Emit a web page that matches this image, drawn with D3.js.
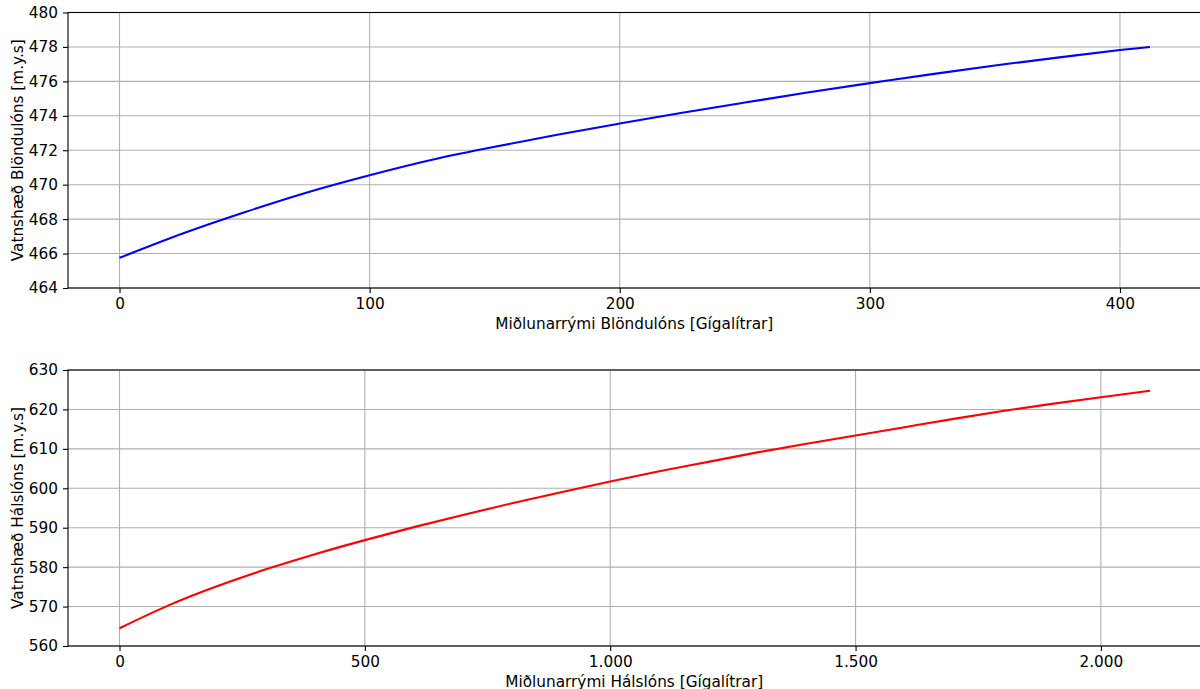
<!DOCTYPE html>
<html>
<head>
<meta charset="utf-8">
<script src="https://cdn.jsdelivr.net/npm/d3@7"></script>
<style>
    body { margin: 0; background: #fff; }
    svg { display: block; font-family: "DejaVu Sans", sans-serif; }
</style>
</head>
<body>
<div id="chart"></div>
<script>
// Blöndulón: storage (GL) vs water level (m.y.s)
const blondaVolume = [0, 25, 50, 75, 100, 125, 150, 175, 200, 225, 250, 275, 300, 325, 350, 375, 400, 412];
const blondaLevel = [465.75, 467.15, 468.4, 469.55, 470.55, 471.45, 472.2, 472.9, 473.55, 474.18, 474.77, 475.35, 475.9, 476.42, 476.92, 477.38, 477.82, 478.0];

// Hálslón: storage (GL) vs water level (m.y.s)
const halsVolume = [0, 100, 200, 300, 400, 500, 600, 700, 800, 900, 1000, 1100, 1200, 1300, 1400, 1500, 1600, 1700, 1800, 1900, 2000, 2100];
const halsLevel = [564.5, 570.3, 575.2, 579.5, 583.35, 586.85, 590.15, 593.25, 596.2, 599.0, 601.7, 604.3, 606.7, 609.1, 611.3, 613.4, 615.5, 617.6, 619.6, 621.4, 623.1, 624.75];

// Axis settings
const blondaYTicks = [464, 466, 468, 470, 472, 474, 476, 478, 480];
const blondaXTicks = [0, 100, 200, 300, 400];
const halsYTicks = [560, 570, 580, 590, 600, 610, 620, 630];
const halsXTicks = [0, 500, 1000, 1500, 2000];

const isLocale = d3.formatLocale({decimal: ",", thousands: ".", grouping: [3], currency: ["", ""]});

const W = 1200, H = 689;
const svg = d3.select("#chart").append("svg")
    .attr("width", W)
    .attr("height", H);

function drawPanel(opts) {
    let left = 68, right = 1201.5;
    let top = opts.top, bottom = opts.bottom;

    // matplotlib style 5% margin on x
    let ext = d3.extent(opts.xs);
    let pad = (ext[1] - ext[0]) * 0.05;
    let x = d3.scaleLinear().domain([ext[0] - pad, ext[1] + pad]).range([left, right]);
    let y = d3.scaleLinear().domain(opts.yDomain).range([bottom, top]);

    let g = svg.append("g");

    // grid
    g.append("g").selectAll("line.gx")
        .data(opts.xTicks).enter().append("line")
        .attr("x1", d => x(d)).attr("x2", d => x(d))
        .attr("y1", top).attr("y2", bottom)
        .attr("stroke", "#b0b0b0").attr("stroke-width", 1.1);
    g.append("g").selectAll("line.gy")
        .data(opts.yTicks).enter().append("line")
        .attr("x1", left).attr("x2", right)
        .attr("y1", d => y(d)).attr("y2", d => y(d))
        .attr("stroke", "#b0b0b0").attr("stroke-width", 1.1);

    // data line
    let line = d3.line()
        .x((d, i) => x(opts.xs[i]))
        .y(d => y(d))
        .curve(d3.curveNatural);
    g.append("path")
        .datum(opts.ys)
        .attr("fill", "none")
        .attr("stroke", opts.color)
        .attr("stroke-width", 2.1)
        .attr("d", line);

    // axes
    let xAxis = g.append("g")
        .attr("transform", "translate(0," + bottom + ")")
        .call(d3.axisBottom(x).tickValues(opts.xTicks).tickFormat(opts.xFormat).tickSize(5).tickPadding(5));
    let yAxis = g.append("g")
        .attr("transform", "translate(" + left + ",0)")
        .call(d3.axisLeft(y).tickValues(opts.yTicks).tickSize(5).tickPadding(5));
    [xAxis, yAxis].forEach(a => {
        a.select(".domain").remove();
        a.selectAll("text").style("font-size", "15.3px").attr("fill", "#000").style("font-family", "DejaVu Sans");
        a.selectAll("line").attr("stroke", "#000").attr("stroke-width", 1.1);
    });

    // spines
    g.append("rect")
        .attr("x", left).attr("y", top)
        .attr("width", right - left).attr("height", bottom - top)
        .attr("fill", "none")
        .attr("stroke", "#000")
        .attr("stroke-width", 1.1);

    // labels
    g.append("text")
        .attr("x", (left + right) / 2 - 0.5)
        .attr("y", bottom + 41)
        .attr("text-anchor", "middle")
        .style("font-size", "15.3px")
        .text(opts.xLabel);
    g.append("text")
        .attr("transform", "translate(23," + ((top + bottom) / 2) + ") rotate(-90)")
        .attr("text-anchor", "middle")
        .style("font-size", "15.3px")
        .text(opts.yLabel);
}

drawPanel({
    top: 12.5, bottom: 288,
    xs: blondaVolume, ys: blondaLevel,
    yDomain: [464, 480],
    xTicks: blondaXTicks, yTicks: blondaYTicks,
    xFormat: d3.format("d"),
    color: "#0000ff",
    xLabel: "Miðlunarrými Blöndulóns [Gígalítrar]",
    yLabel: "Vatnshæð Blöndulóns [m.y.s]"
});

drawPanel({
    top: 370, bottom: 646,
    xs: halsVolume, ys: halsLevel,
    yDomain: [560, 630],
    xTicks: halsXTicks, yTicks: halsYTicks,
    xFormat: isLocale.format(","),
    color: "#ff0000",
    xLabel: "Miðlunarrými Hálslóns [Gígalítrar]",
    yLabel: "Vatnshæð Hálslóns [m.y.s]"
});
</script>
</body>
</html>
